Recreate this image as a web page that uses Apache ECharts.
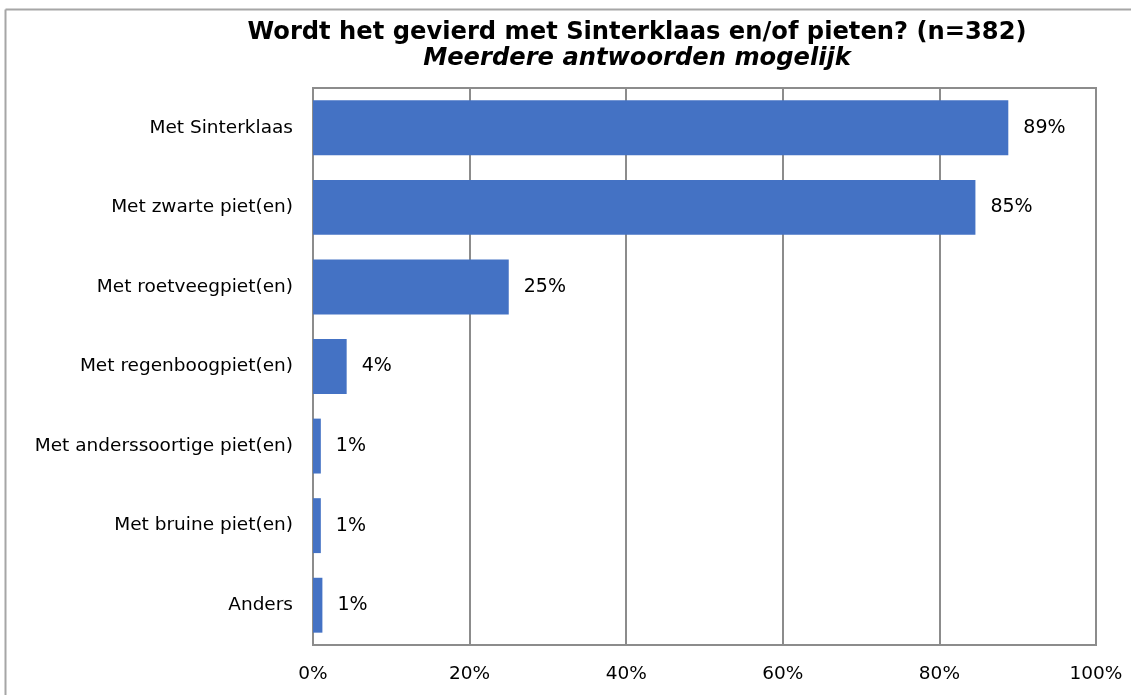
<!DOCTYPE html>
<html>
<head>
<meta charset="utf-8">
<script src="https://cdn.jsdelivr.net/npm/echarts@6/dist/echarts.min.js"></script>
<style>
html,body{margin:0;padding:0;background:#fff;}
#main{width:1131px;height:695px;}
</style>
</head>
<body>
<div id="main"></div>
<script>
const categories = [
  "Met Sinterklaas",
  "Met zwarte piet(en)",
  "Met roetveegpiet(en)",
  "Met regenboogpiet(en)",
  "Met anderssoortige piet(en)",
  "Met bruine piet(en)",
  "Anders"
];
const values = [88.8, 84.6, 25.0, 4.3, 1.0, 1.0, 1.2];
const tickLabels = ["0%", "20%", "40%", "60%", "80%", "100%"];
const titleText = "Wordt het gevierd met Sinterklaas en/of pieten? (n=382)";
const subtitleText = "Meerdere antwoorden mogelijk";

const chart = echarts.init(document.getElementById('main'), null, {renderer: 'canvas'});
const font = "Tahoma, 'DejaVu Sans', Verdana, sans-serif";
const gridColor = '#8c8c8c';
chart.setOption({
  animation: false,
  backgroundColor: '#fff',
  title: {
    text: titleText,
    subtext: subtitleText,
    left: 632,
    textAlign: 'center',
    top: 15,
    itemGap: 0,
    textStyle: {fontFamily: font, fontWeight: 'bold', fontSize: 24.2, color: '#000', lineHeight: 26},
    subtextStyle: {fontFamily: font, fontWeight: 'bold', fontStyle: 'italic', fontSize: 24.2, color: '#000', lineHeight: 26}
  },
  grid: {left: 313, right: 35, top: 88, bottom: 50, containLabel: false, show: true, borderColor: gridColor, borderWidth: 2},
  xAxis: {
    type: 'value', min: 0, max: 100, interval: 20,
    axisLine: {show: false}, axisTick: {show: false},
    splitLine: {show: true, lineStyle: {color: gridColor, width: 2}},
    axisLabel: {
      margin: 20, fontFamily: font, fontSize: 18.5, color: '#000',
      formatter: function (v) { return tickLabels[Math.round(v / 20)]; }
    }
  },
  yAxis: {
    type: 'category', data: categories, inverse: true,
    axisLine: {show: false}, axisTick: {show: false},
    axisLabel: {margin: 20, fontFamily: font, fontSize: 18.5, color: '#000'}
  },
  series: [{
    type: 'bar', data: values, barCategoryGap: '31%',
    itemStyle: {color: '#4472c4'},
    label: {
      show: true, position: 'right', distance: 15,
      fontFamily: font, fontSize: 19, color: '#000',
      formatter: function (p) { return Math.round(p.value) + '%'; }
    }
  }],
  graphic: [
    {type: 'line', shape: {x1: 5.5, y1: 9.5, x2: 1131, y2: 9.5}, style: {stroke: '#a6a6a6', lineWidth: 2}},
    {type: 'line', shape: {x1: 5.5, y1: 9.5, x2: 5.5, y2: 695}, style: {stroke: '#a6a6a6', lineWidth: 2}}
  ]
});
</script>
</body>
</html>
